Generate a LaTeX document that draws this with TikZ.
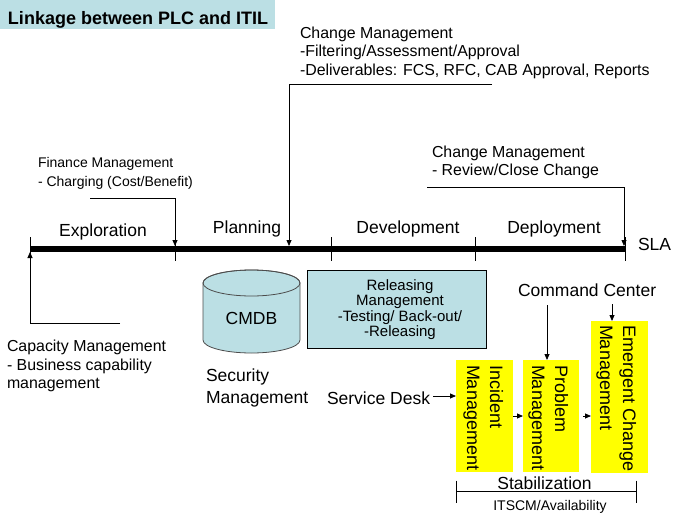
\documentclass[tikz,border=0pt]{standalone}
\usepackage{fontspec}
\setmainfont{Liberation Sans}
\usetikzlibrary{arrows.meta}
\definecolor{lblue}{RGB}{187,223,228}
\definecolor{ybox}{RGB}{255,255,0}
\newcommand{\tstrut}[1]{\rule{0pt}{#1}}
\begin{document}
\begin{tikzpicture}[x=1pt,y=-1pt,
  txt/.style={inner sep=0pt, outer sep=0pt},
  big/.style={font=\fontsize{17.5}{21.5}\selectfont},
  mid/.style={font=\fontsize{15.9}{18.6}\selectfont},
  small/.style={font=\fontsize{14}{18.5}\selectfont},
  ytext/.style={txt, rotate=-90, anchor=north west, align=left, font=\fontsize{18}{23}\selectfont},
  yboxst/.style={fill=ybox, inner sep=0pt, outer sep=0pt, anchor=north west},
  thinl/.style={line width=0.8pt},
  arr/.style={thinl, -{Triangle[length=6pt,width=5pt]}}]
\useasboundingbox (0,0) rectangle (679,516);

% title
\node[fill=lblue, inner sep=0pt, minimum width=275pt, minimum height=29pt, anchor=north west] (titlebox) at (0,0) {};
\node[txt, anchor=base west, font=\bfseries\fontsize{18}{21}\selectfont] (title) at (8,25) {Linkage between PLC and ITIL};

% timeline
\coordinate (tl0) at (30,249);
\coordinate (tl1) at (175,249);
\coordinate (tl2) at (331,249);
\coordinate (tl3) at (475,249);
\coordinate (tl4) at (625,249);
\foreach \x in {30,175,331,475,625} \draw[thinl] (\x,237) -- (\x,261);
\draw[line width=6pt] (tl0) -- (tl4);

\node[txt, big, anchor=base] (expl) at (103,236.7) {Exploration};
\node[txt, big, anchor=base] (plan) at (247,233.5) {Planning};
\node[txt, big, anchor=base] (dev) at (408,233.7) {Development};
\node[txt, big, anchor=base] (depl) at (554,233.7) {Deployment};
\node[txt, big, anchor=base west] (sla) at (638,250.7) {SLA};

% change management (top)
\node[txt, mid, anchor=north west, align=left] (cm1) at (300,26.3)
  {\tstrut{12pt}Change Management\\-Filtering/Assessment/Approval\\-Deliverables: FCS, RFC, CAB Approval, Reports};
\coordinate (cm1s) at (492,84);
\coordinate (tip2) at (289,246);
\draw[arr] (cm1s) -| (tip2);

% finance management
\node[txt, small, anchor=north west, align=left] (fin) at (38,156.5)
  {\tstrut{11pt}Finance Management\\- Charging (Cost/Benefit)};
\coordinate (fins) at (90,198);
\coordinate (tip1) at (175,246);
\draw[arr] (fins) -| (tip1);

% change management (right)
\node[txt, mid, anchor=north west, align=left] (cm2) at (432,145)
  {\tstrut{12pt}Change Management\\- Review/Close Change};
\coordinate (cm2s) at (427,187);
\coordinate (tip4) at (624,246);
\draw[arr] (cm2s) -| (tip4);

% capacity management
\node[txt, mid, anchor=north west, align=left] (cap) at (7,339.7)
  {\tstrut{12pt}Capacity Management\\- Business capability\\management};
\coordinate (caps) at (120,323);
\coordinate (tip0) at (30,252);
\draw[arr] (caps) -| (tip0);

% CMDB cylinder
\path[fill=lblue, draw=black!70, thinl] (203,283) -- (203,340) arc (180:360:48.5pt and 13pt) -- (300,283) arc (0:180:48.5pt and 13pt) -- cycle;
\draw[black!70, thinl] (251.5,283) ellipse [x radius=48.5pt, y radius=13pt];
\node[txt, big, anchor=base] (cmdb) at (251.5,324) {CMDB};

\node[txt, big, anchor=north west, align=left] (sec) at (206,368.7)
  {\tstrut{13pt}Security\\Management};

% releasing management
\node[draw, thinl, fill=lblue, inner sep=0pt, minimum width=179pt, minimum height=78pt, anchor=north west] (relbox) at (307,270) {};
\node[txt, align=center, anchor=north, font=\fontsize{15}{15.6}\selectfont] (reltext) at (400,279)
  {\tstrut{11pt}Releasing\\Management\\-Testing/ Back-out/\\-Releasing};

% command center
\node[txt, big, anchor=base west] (cc) at (518,296.7) {Command Center};

% service desk
\node[txt, big, anchor=base west] (sd) at (327,404) {Service Desk};

% yellow boxes
\node[yboxst, minimum width=57pt, minimum height=112pt] (inc) at (456,360) {};
\node[yboxst, minimum width=56pt, minimum height=112pt] (prob) at (523,360) {};
\node[yboxst, minimum width=57pt, minimum height=152pt] (emg) at (591,321) {};

\node[ytext] (inctext) at (504,365) {\tstrut{14pt}Incident\\Management};
\node[ytext] (probtext) at (569,365) {\tstrut{14pt}Problem\\Management};
\node[ytext] (emgtext) at (637,325) {\tstrut{14pt}Emergent Change\\Management};

\coordinate (sdarr) at (433,396);
\draw[arr] (sdarr) -- (sdarr -| inc.west);
\draw[arr] (inc.east) -- (prob.west);
\draw[arr, shorten <=4pt] (prob.east) -- (prob.east -| emg.west);
\coordinate (cca) at (547,305);
\coordinate (ccb) at (612,304);
\draw[arr] (cca) -- (cca |- prob.north);
\draw[arr] (ccb) -- (ccb |- emg.north);

% stabilization bracket
\coordinate (brl) at (456,491.7);
\coordinate (brr) at (636.7,491.7);
\draw[thinl] (brl) -- (brr);
\draw[thinl] (456,480.7) -- (456,503.3);
\draw[thinl] (636.7,480.7) -- (636.7,503.3);
\node[txt, big, anchor=base] (stab) at (544.5,489) {Stabilization};
\node[txt, small, anchor=base] (itscm) at (550,510) {ITSCM/Availability};
\end{tikzpicture}
\end{document}
